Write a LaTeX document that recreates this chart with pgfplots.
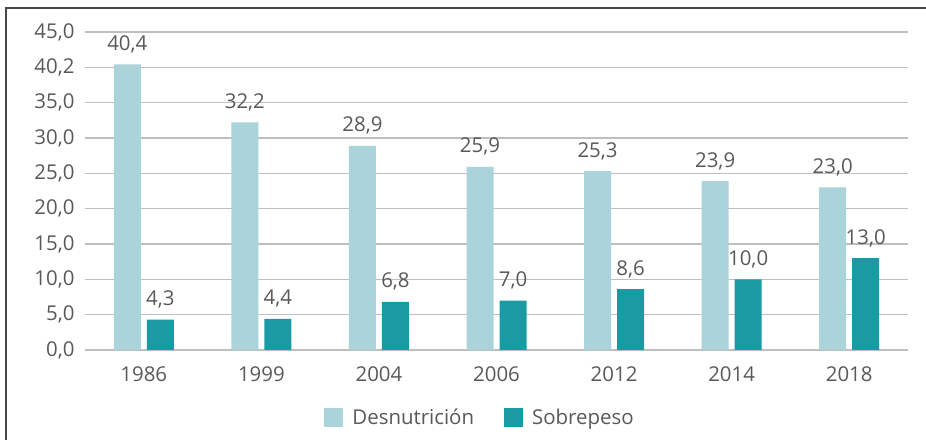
\documentclass[border=0pt]{standalone}
\usepackage{pgfplots}
\pgfplotsset{compat=1.18}
\usepackage{fontspec}
\setmainfont{Open Sans}
\definecolor{lightbar}{HTML}{ABD3DA}
\definecolor{darkbar}{HTML}{1A9AA3}
\definecolor{txt}{HTML}{595959}
\definecolor{gridc}{HTML}{BFBFBF}
\newcommand\lbl{\fontsize{20.5}{24}\selectfont}
\begin{document}
\begin{tikzpicture}[x=1bp,y=1bp]
\path[use as bounding box] (0,0) rectangle (926,440);
\draw[color=txt!80!black, line width=1.5bp] (6,0) -- (6,432) -- (926,432);
\begin{axis}[
  at={(85bp,90bp)}, anchor=south west,
  scale only axis, width=823bp, height=318bp,
  xmin=-0.5, xmax=6.5, ymin=0, ymax=45,
  axis line style={draw=none},
  ymajorgrids, grid style={color=gridc, line width=1.2bp},
  major tick length=0pt,
  ytick={0,5,10,15,20,25,30,35,40,45},
  yticklabels={{0,0},{5,0},{10,0},{15,0},{20,0},{25,0},{30,0},{35,0},{40,2},{45,0}},
  xtick={0,1,2,3,4,5,6},
  xticklabels={1986,1999,2004,2006,2012,2014,2018},
  tick label style={font=\lbl, color=txt},
  yticklabel style={xshift=-7bp},
  xticklabel style={yshift=-13bp},
  /pgf/number format/assume math mode=true,
  ybar=6bp, bar width=27bp,
  nodes near coords,
  /pgf/number format/.cd, use comma, fixed, fixed zerofill, precision=1,
  /pgfplots/.cd,
  every node near coord/.append style={font=\lbl, color=txt, anchor=base, yshift=14bp},
  legend style={at={(0.48,-0.212)}, anchor=center, draw=none, legend columns=2,
    font=\lbl, text=txt,
    /tikz/every odd column/.append style={column sep=7bp},
    /tikz/every even column/.append style={column sep=28bp}},
  legend image code/.code={\fill[#1] (0bp,-9.5bp) rectangle (19bp,9.5bp);},
]
\addplot[fill=lightbar, draw=none] coordinates {(0,40.4) (1,32.2) (2,28.9) (3,25.9) (4,25.3) (5,23.9) (6,23.0)};
\addplot[fill=darkbar, draw=none] coordinates {(0,4.3) (1,4.4) (2,6.8) (3,7.0) (4,8.6) (5,10.0) (6,13.0)};
\legend{Desnutrición, Sobrepeso}
\end{axis}
\end{tikzpicture}
\end{document}
